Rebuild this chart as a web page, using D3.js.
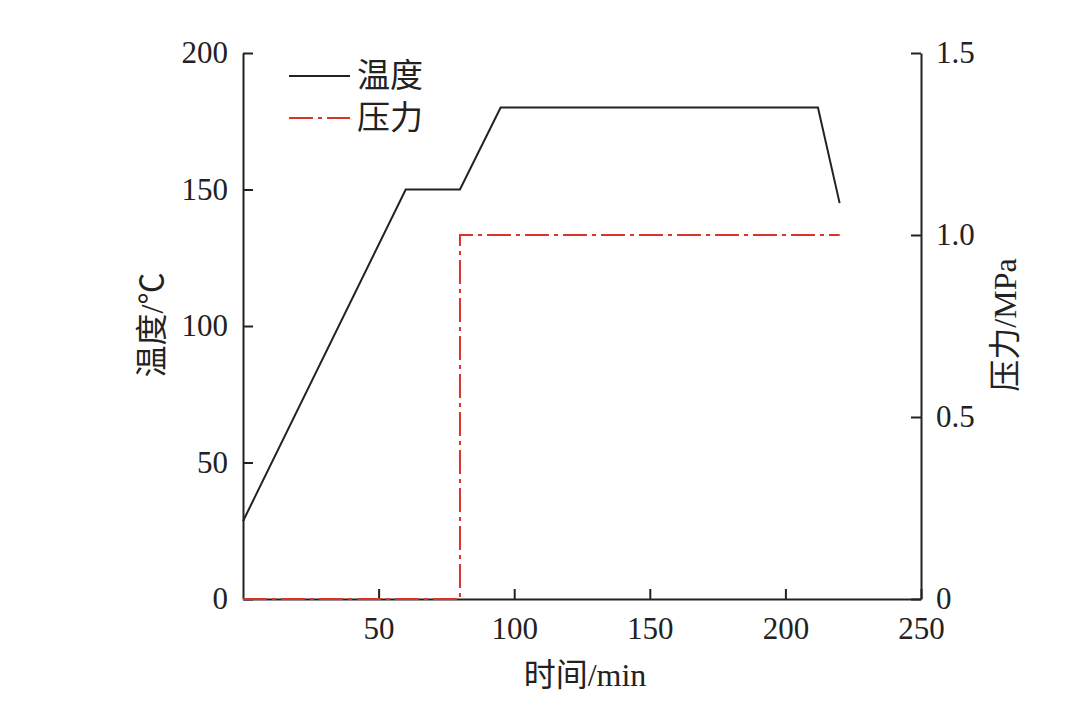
<!DOCTYPE html>
<html><head><meta charset="utf-8">
<script src="https://cdn.jsdelivr.net/npm/d3@7"></script>
<style>body{margin:0;background:#fff}</style>
</head><body>
<svg id="c" width="1092" height="707"></svg>
<script>
const timeTemp = [0, 60, 80, 95, 212, 220];
const tempValues = [28.5, 150, 150, 180, 180, 145];
const timePress = [0, 80, 80, 220];
const pressValues = [0, 0, 1.0, 1.0];
const xTicks = [50, 100, 150, 200, 250];
const yLeftTicks = [0, 50, 100, 150, 200];
const yRightTicks = [0, 0.5, 1.0, 1.5];
const seriesNames = ["温度", "压力"];
const axisTitles = ["时间/min", "温度/℃", "压力/MPa"];

const svg = d3.select("#c");
const L = 243, R = 921, T = 53, B = 599;
const x = d3.scaleLinear().domain([0, 250]).range([L, R]);
const yL = d3.scaleLinear().domain([0, 200]).range([B, T]);
const yR = d3.scaleLinear().domain([0, 1.5]).range([B, T]);
const font = "'Liberation Serif','Times New Roman','Noto Sans CJK SC',serif";
const fs = 31;

function style(g){
  g.selectAll("path.domain").attr("stroke","#222").attr("stroke-width",2);
  g.selectAll(".tick line").attr("stroke","#222").attr("stroke-width",2);
  g.selectAll("text").attr("font-family",font).attr("font-size",fs).attr("fill","#222");
}
const gx = svg.append("g").attr("transform",`translate(0,${B})`)
  .call(d3.axisBottom(x).tickValues(xTicks).tickSizeInner(-10).tickSizeOuter(0).tickPadding(18).tickFormat(d3.format("d")));
style(gx);
const gl = svg.append("g").attr("transform",`translate(${L},0)`)
  .call(d3.axisLeft(yL).tickValues(yLeftTicks).tickSizeInner(-10).tickSizeOuter(0).tickPadding(15).tickFormat(d3.format("d")));
style(gl);
const gr = svg.append("g").attr("transform",`translate(${R},0)`)
  .call(d3.axisRight(yR).tickValues(yRightTicks).tickSizeInner(-10).tickSizeOuter(0).tickPadding(15).tickFormat(d3.format(".1f")));
style(gr);
gr.selectAll(".tick text").text(d => d === 0 ? "0" : d3.format(".1f")(d));

const tempData = timeTemp.map((t,i)=>[t,tempValues[i]]);
const pressData = timePress.map((t,i)=>[t,pressValues[i]]);
svg.append("path").datum(pressData)
  .attr("d", d3.line().x(d=>x(d[0])).y(d=>yR(d[1])))
  .attr("fill","none").attr("stroke","#d8342a").attr("stroke-width",2)
  .attr("stroke-dasharray","24,5,4,5");
svg.append("path").datum(tempData)
  .attr("d", d3.line().x(d=>x(d[0])).y(d=>yL(d[1])))
  .attr("fill","none").attr("stroke","#222").attr("stroke-width",2);

// legend
const lg = svg.append("g");
[[76,"#222",null],[118,"#d8342a","24,5,4,5"]].forEach((s,i)=>{
  lg.append("line").attr("x1",289).attr("x2",350).attr("y1",s[0]).attr("y2",s[0])
    .attr("stroke",s[1]).attr("stroke-width",2).attr("stroke-dasharray",s[2]);
  lg.append("text").attr("x",357).attr("y",s[0]+11).text(seriesNames[i])
    .attr("font-family",font).attr("font-size",fs+2).attr("fill","#222");
});

svg.append("text").attr("x",585).attr("y",686).attr("text-anchor","middle").text(axisTitles[0])
  .attr("font-family",font).attr("font-size",fs+1).attr("fill","#222");
svg.append("text").attr("transform","translate(163,325) rotate(-90)").attr("text-anchor","middle").text(axisTitles[1])
  .attr("font-family",font).attr("font-size",fs+1).attr("fill","#222");
svg.append("text").attr("transform","translate(1016,325) rotate(-90)").attr("text-anchor","middle").text(axisTitles[2])
  .attr("font-family",font).attr("font-size",fs+1).attr("fill","#222");
</script>
</body></html>
